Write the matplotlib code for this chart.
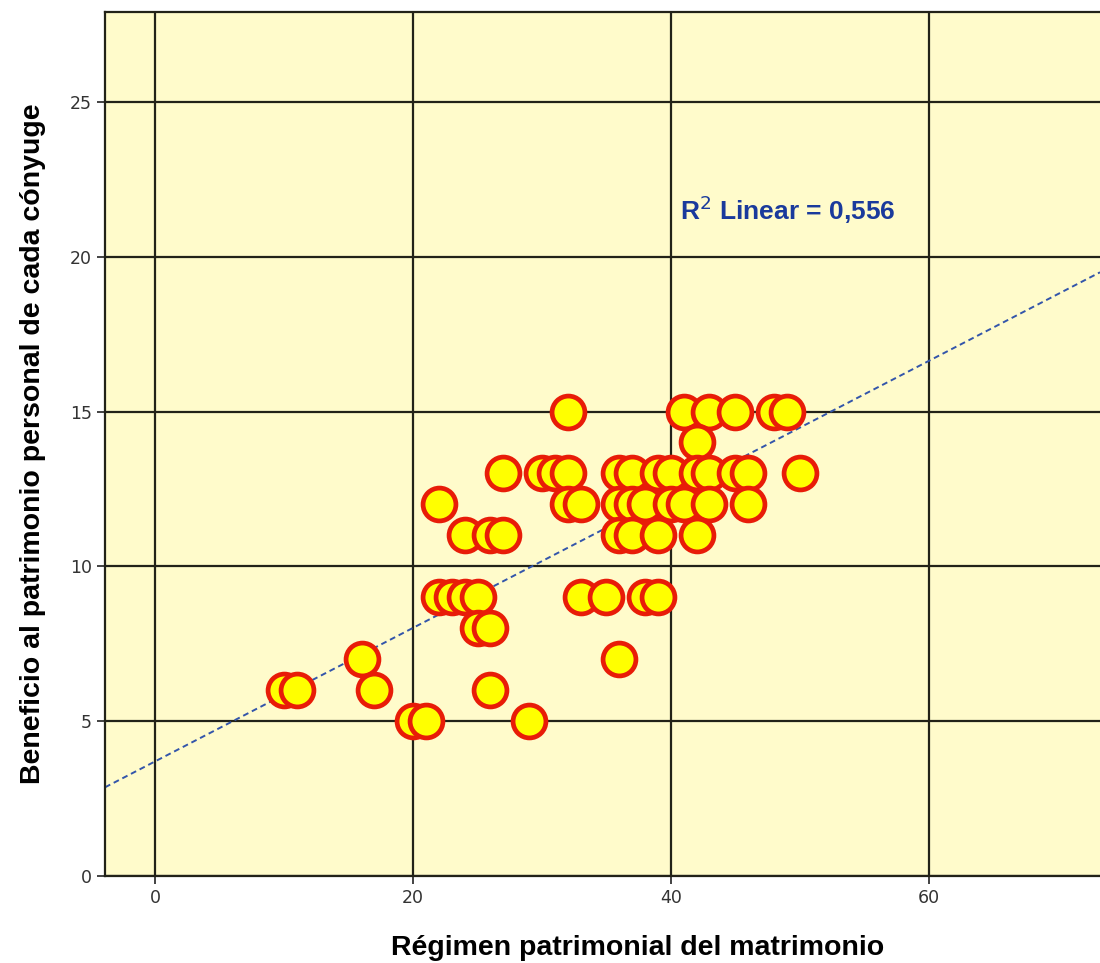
import numpy as np
import matplotlib
matplotlib.use('Agg')
import matplotlib.pyplot as plt

# points, grouped by y value
x_15 = [32, 41, 43, 45, 48, 49]
x_14 = [42]
x_13 = [27, 30, 31, 32, 36, 37, 39, 40, 42, 43, 45, 46, 50]
x_12 = [22, 32, 33, 36, 37, 38, 40, 41, 43, 46]
x_11 = [24, 26, 27, 36, 37, 39, 42]
x_9 = [22, 23, 24, 25, 33, 35, 38, 39]
x_8 = [25, 26]
x_7 = [16, 36]
x_6 = [10, 11, 17, 26]
x_5 = [20, 21, 29]

groups = {15: x_15, 14: x_14, 13: x_13, 12: x_12, 11: x_11,
          9: x_9, 8: x_8, 7: x_7, 6: x_6, 5: x_5}

xs = []
ys = []
for yv, xl in groups.items():
    xs += xl
    ys += [yv] * len(xl)
xs = np.array(xs, dtype=float)
ys = np.array(ys, dtype=float)

r2_label = 'R$^2$ Linear = 0,556'

fig = plt.figure(figsize=(11, 9.63), dpi=100)
ax = fig.add_axes([0.0955, 0.0903, 0.9045, 0.8972])
ax.set_facecolor('#FFFBCB')

ax.set_xlim(-3.9, 73.3)
ax.set_ylim(0, 27.9)
ax.set_xticks([0, 20, 40, 60])
ax.set_yticks([0, 5, 10, 15, 20, 25])
ax.grid(True, color='#222218', linewidth=1.6)
ax.set_axisbelow(True)

# fit line
slope, intercept = np.polyfit(xs, ys, 1)
lx = np.array([-3.9, 73.3])
ax.plot(lx, intercept + slope * lx, linestyle=(0, (3, 2)), color='#3355AA', linewidth=1.4, zorder=2)

ax.scatter(xs, ys, s=560, facecolor='#FFFF00', edgecolor='#E81C08', linewidth=3.4, zorder=3)

ax.text(40.7, 21.5, r2_label, color='#1A3A9C', fontsize=19, fontweight='bold',
        family='Liberation Sans', va='center', ha='left')

for s in ['left', 'bottom', 'top']:
    ax.spines[s].set_color('#222218')
    ax.spines[s].set_linewidth(1.6)
ax.spines['right'].set_visible(False)

ax.tick_params(direction='out', length=6, width=1.2, color='#222222', labelsize=12.5, labelcolor='#333333')

ax.set_xlabel('Régimen patrimonial del matrimonio', fontsize=20.5, fontweight='bold',
              family='Liberation Sans')
ax.xaxis.set_label_coords(0.535, -0.068)
ax.set_ylabel('Beneficio al patrimonio personal de cada cónyuge', fontsize=20.5, fontweight='bold',
              family='Liberation Sans', labelpad=17)

fig.savefig('out.png', dpi=100)
